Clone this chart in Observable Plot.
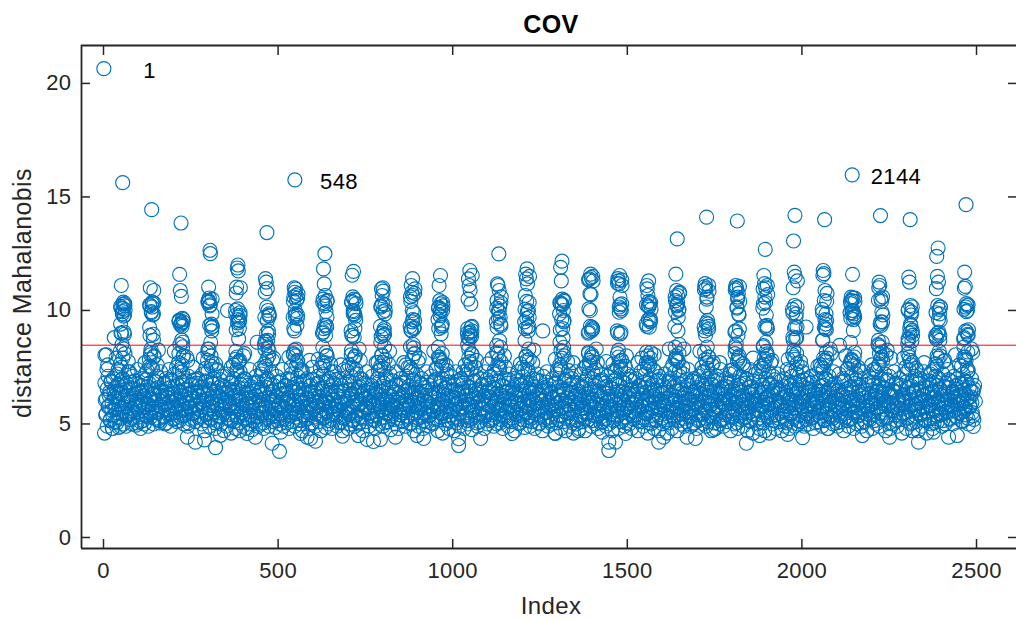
<!DOCTYPE html>
<html><head><meta charset="utf-8">
<script src="https://cdn.jsdelivr.net/npm/d3@7"></script>
<script src="https://cdn.jsdelivr.net/npm/@observablehq/plot@0.6"></script>
<style>html,body{margin:0;padding:0;background:#fff}svg{display:block}</style>
</head><body><div id="chart"></div>
<script>
const titleText = "COV";
const xLabel = "Index";
const yLabel = "distance Mahalanobis";
const xTicks = [0,500,1000,1500,2000,2500];
const yTicks = [0,5,10,15,20];
const cutoff = 8.47;
const labelled = [{i:1,v:20.65,lx:114,ly:20.57,t:"1"},{i:548,v:15.75,lx:620,ly:15.68,t:"548"},{i:2144,v:15.97,lx:2197,ly:15.9,t:"2144"}];

// Columns of high-distance points: index of the column
const columnIndex = [8,55,138,222,305,385,468,550,634,716,800,885,965,1049,1132,1213,1313,1395,1478,1561,1643,1727,1815,1895,1980,2065,2145,2225,2310,2390,2470];
const columnSpread = [0,4,-4,2,-2,6,-6,1,-1,5,-5,3,-3,7,-7,0,2,-2,4,-4];
const col0=[8.05,7.6,8.03,7.4];
const col1=[15.63,9.05,11.1,10.37,8.5,10.2,9.4,10.28,9.85,8.95,10.1,9.75,9.0,10.02,8.2,7.9];
const col2=[14.44,8.95,11,10.37,8.3,10.88,9.25,10.3,9.9,8.7,10.2,9.8,8.15,8.0,7.85];
const col3=[13.85,9.65,11.59,8.7,10.88,9.5,8.1,10.62,9.4,8.4,9.55,9.3,8.5,8.0,7.7];
const col4=[12.65,9.4,11.03,8.6,10.55,9.85,8.3,12.5,10.2,9.1,10.44,8.0,10.37,9.3,7.8];
const col5=[12,9.2,11.03,8.75,11.87,9.78,8.2,11.74,10.07,7.8,10.77,9.48,7.95,11,10,9.6,7.7];
const col6=[13.43,9.1,11.4,8.68,11.25,9.78,8.3,10.96,10.14,8.0,10.8,10.0,8.6,9.75,8.5,7.85];
const col7=[10.95,9.34,11,8.3,10.8,9.78,8.05,10.66,10,7.8,10.59,10.44,9.1,10.73,9.7,8.0];
const col8=[12.5,9.34,11.83,8.9,11.17,9.7,8.38,10.66,10.3,8.0,10.5,9.95,9.2,10.45,9.0,7.7];
const col9=[11.72,9.2,11.55,8.82,10.6,9.56,8.23,10.5,10,8.0,10.4,9.85,8.9,10.3,9.1,7.85];
const col10=[11,9.2,10.95,8.9,10.66,9.85,8.6,10.85,10.3,8.4,10.2,9.1,8.05,10.0,9.3,7.72];
const col11=[11.4,9.2,11.1,8.5,10.8,9.56,8.4,10.66,10,8.1,10.4,9.9,9.1,10.95,9.3,7.9];
const col12=[11.54,9.33,11.1,8.97,10.43,10,8.38,10.29,9.77,8.1,10.14,9.26,7.95,10.2,9.6,7.8];
const col13=[11.76,9.26,11.39,8.9,11.1,9.1,8.5,10.88,8.75,8.1,10.5,10.29,7.9,11.55,9.0,7.75];
const col14=[12.49,9.7,11.17,8.67,11.1,9.33,8.45,10.88,10,8.38,10.43,10.2,8.1,10.6,9.5,7.85];
const col15=[11.83,10,11.6,9.26,11.39,9.7,8.67,11.17,10.4,8.3,10.66,9.1,8.0,11.5,9.5,7.8];
const col16=[12.17,10,11.9,9.2,11.3,9.56,8.6,10.5,10.29,8.38,10.3,8.8,8.23,10.4,9.85,7.9];
const col17=[11.6,9.26,11.39,9.1,10.73,9.2,8.16,11.45,10,7.95,10.07,8.05,7.8,11.3,9.0,7.7];
const col18=[11.54,9.04,11.3,8.97,11.17,10.29,8.1,10.58,9.92,7.8,11.4,10.07,7.95,11.1,9.1,7.75];
const col19=[11.3,9.63,10.95,9.26,10.66,9.56,8.16,10.4,10.2,7.9,11.1,10.3,8.0,10.05,9.4,7.7];
const col20=[13.15,10,11.6,9.1,10.88,8.5,8.38,10.66,10.2,8.1,10.43,9.7,7.9,10.8,9.3,7.8];
const col21=[14.11,9.41,11.18,8.39,10.96,9.19,8.16,10.59,10.15,7.95,11.05,9.56,8.9,10.85,9.26,7.7];
const col22=[13.94,9.85,11.1,8.9,10.96,9.19,8.39,10.59,10.15,8.0,11.0,10.75,8.53,10.4,9.05,7.8];
const col23=[12.69,9.34,11.54,8.6,11.18,9.19,8.39,11,10.59,8.09,10.3,9.8,7.9,10.7,10.1,7.75];
const col24=[14.19,9.85,13.06,8.75,11.69,9.27,8.83,11.5,10.22,8.1,11,9.7,7.95,11.3,10.05,7.85];
const col25=[14,9.85,11.76,9.19,11.62,9.56,8.68,10.88,10.44,8.17,11.55,9.4,7.9,10.75,10.05,7.8];
const col26=[11.59,9.85,10.59,9.12,10.44,9.7,8.6,10.55,10,7.95,10.3,9.6,7.8,10.4,9.9,7.75];
const col27=[14.18,9.93,11.25,9.34,11.1,9.49,8.68,10.52,8.39,8.17,11.0,10.4,8.1,9.8,8.5,7.85];
const col28=[14,9.93,11.47,9.34,11.25,9.12,8.75,10.22,9.0,8.65,10.05,9.8,7.95,8.9,8.55,7.8];
const col29=[12.75,9.85,12.38,9.05,11.5,9.56,8.83,11.25,10.22,8.68,10.96,10.05,8.0,10.15,8.9,7.9];
const col30=[14.66,10,11.69,9.05,11.06,8.9,8.39,10.3,10.15,8.17,10.98,10.22,7.95,9.15,8.75,7.8];
const columnValues = [col0,col1,col2,col3,col4,col5,col6,col7,col8,col9,col10,col11,col12,col13,col14,col15,col16,col17,col18,col19,col20,col21,col22,col23,col24,col25,col26,col27,col28,col29,col30];

// Extra points in the crowded parts of each column, one row per column (columns 1 to 30)
const columnDense = [
10.3,10.18,10.08,9.95,9.8,9.0,
10.33,10.25,10.15,9.95,9.85,8.9,
9.6,9.52,9.45,9.35,8.6,9.58,
10.5,10.35,10.25,9.35,9.25,10.42,
9.9,9.8,9.7,9.45,9.55,9.15,
9.85,9.7,9.55,9.0,8.95,8.65,
10.55,10.4,9.85,9.75,9.65,9.2,
10.4,10.35,10.2,9.35,9.25,9.05,
10.45,10.35,9.95,9.85,9.75,8.9,
10.25,10.15,9.95,9.0,8.95,8.85,
10.75,10.6,9.6,9.5,9.25,9.15,
10.35,10.1,10.05,9.95,9.4,9.2,
9.3,9.2,9.05,9.0,8.85,8.8,
10.35,10.1,9.95,9.65,9.4,9.25,
10.35,10.05,9.95,9.65,9.3,9.2,
10.45,10.35,10.25,9.6,9.5,9.15,
11.5,11.35,10.7,9.3,9.15,9.05,
11.35,11.2,10.25,10.15,10.0,9.0,
10.35,10.25,10.15,9.6,9.5,9.3,
10.75,10.6,10.35,10.25,10.05,9.95,
11.1,10.9,10.5,9.45,9.3,9.1,
11.05,10.9,10.5,10.1,9.8,9.1,
11.1,10.95,10.35,9.3,9.25,8.45,
10.15,9.9,9.3,9.2,8.8,8.7,
10.4,9.9,9.6,9.25,9.15,8.7,
10.55,10.4,10.0,9.9,9.75,9.65,
10.6,10.45,9.5,9.4,8.6,8.45,
10.15,10.0,9.4,9.2,9.05,8.7,
10.15,9.9,9.6,9.0,8.9,8.75,
10.25,10.05,9.95,9.1,8.95,8.8];

// Points joining the columns to the band, one row per column (columns 1 to 30)
const columnStalk = [
7.4,8.1,7.65,7.3,7.9,8.3,7.5,7.75,
7.35,7.95,7.55,8.25,7.7,7.45,8.05,7.6,
7.5,8.0,7.3,7.8,8.2,7.6,7.4,7.95,
7.45,7.7,8.15,7.35,7.9,7.55,8.3,7.65,
7.6,7.3,7.85,8.1,7.5,7.75,7.4,8.0,
7.35,8.2,7.65,7.9,7.45,8.35,7.55,7.8,
7.5,7.75,8.1,7.35,7.95,7.6,8.25,7.4,
7.45,8.0,7.7,7.3,7.85,8.15,7.55,7.65,
7.6,7.4,8.05,7.8,7.35,7.95,7.5,8.3,
7.35,7.85,7.55,8.2,7.7,7.45,8.0,7.65,
7.5,8.1,7.3,7.9,7.6,8.35,7.4,7.75,
7.45,7.7,7.95,7.35,8.2,7.55,7.85,7.6,
7.6,8.05,7.4,7.8,7.3,7.65,8.3,7.5,
7.35,7.75,8.15,7.5,7.9,7.45,7.6,8.0,
7.5,7.85,7.4,8.25,7.65,7.3,7.95,7.7,
7.4,8.0,7.6,7.35,7.85,8.2,7.5,7.75,
7.55,7.3,8.1,7.7,7.45,7.95,7.6,8.3,
7.35,7.8,7.5,8.0,7.65,7.4,8.25,7.55,
7.45,8.15,7.7,7.3,7.9,7.6,7.5,8.05,
7.6,7.35,7.85,8.3,7.4,7.75,8.0,7.5,
7.5,7.95,7.3,7.7,8.2,7.45,7.85,7.6,
7.4,7.75,8.1,7.55,7.35,7.9,8.3,7.65,
7.55,8.0,7.45,7.8,7.3,8.2,7.6,7.7,
7.35,7.65,8.05,7.5,7.85,7.4,8.25,7.75,
7.6,7.9,7.3,8.1,7.55,7.75,7.45,8.3,
7.45,8.15,7.7,7.35,8.0,7.6,7.85,7.5,
7.3,7.8,7.55,8.25,7.4,7.95,7.65,8.05,
7.5,7.7,8.1,7.35,7.9,7.6,8.3,7.45,
7.4,8.0,7.65,7.8,7.3,8.2,7.55,7.75,
7.55,7.35,7.95,8.15,7.6,7.45,7.85,8.3];

// Isolated low and edge points: index, value
const edgeIndex = [3,25,44,106,240,263,289,321,335,411,435,483,504,507,564,583,593,607,684,730,755,773,793,836,898,917,1017,1017,1080,1170,1294,1360,1428,1447,1447,1466,1495,1590,1604,1671,1695,1747,1841,1879,1959,2002,2073,2173,2251,2334,2377,2420,2445,2491,31,355,440,590,786,1258,1440,1530,1620,1765,1860,2012,2108,2200,2255,2350,2440,680,860,1100,1345];
const edgeValues = [4.6,4.8,4.85,4.8,4.42,4.2,4.3,3.96,4.5,4.58,4.42,4.15,3.79,4.64,4.58,4.42,4.36,4.24,4.46,4.49,4.32,4.23,4.32,4.42,4.49,4.36,4.05,4.35,4.36,4.58,4.58,4.71,4.64,3.83,4.2,4.2,4.58,4.2,4.42,4.42,4.36,4.75,4.15,4.49,4.54,4.4,4.8,4.49,4.42,4.2,4.64,4.42,4.49,4.89,8.8,10,8.6,7.8,7.72,9.1,7.75,7.7,8.3,7.7,7.9,9.27,8.46,7.6,7.9,7.7,8.05,7.6,7.7,7.65,7.7];

// Main band, read in index order
const bandValues = [
6.8,5.4,6.1,4.9,7.1,5.8,6.4,5.2,6.9,5.6,4.8,7.0,6.2,5.1,6.6,5.5,7.2,6.0,5.3,6.7,4.9,6.3,5.7,7.0,5.0,
6.5,5.9,4.9,6.8,5.4,7.3,6.1,5.2,6.6,5.7,5.0,7.1,6.3,5.5,6.9,4.95,6.0,7.4,5.3,6.4,5.8,5.1,6.7,7.0,5.6,
6.2,5.0,7.2,5.4,6.5,5.9,4.9,6.8,6.1,5.3,7.5,5.7,6.3,5.0,6.9,5.5,6.0,7.1,5.2,6.6,5.8,5.05,7.3,6.4,5.6,
6.1,5.3,6.8,5.0,7.0,5.9,6.3,5.4,7.4,6.6,4.9,5.7,6.9,5.2,6.2,7.2,5.5,6.0,5.1,6.7,5.8,7.0,5.3,6.4,5.6,
7.3,6.1,5.0,6.5,5.4,6.9,5.9,4.9,7.1,6.3,5.7,5.2,6.7,6.0,7.5,5.5,6.4,5.1,6.8,5.8,7.0,5.3,6.2,5.6,6.6,
5.0,7.2,5.9,6.4,4.7,6.9,5.4,6.1,7.3,5.7,4.9,6.5,5.2,6.8,6.0,7.0,5.5,4.8,6.3,5.8,7.4,5.1,6.6,5.3,6.2,
5.0,6.7,5.6,7.1,4.7,5.9,6.4,4.9,7.2,5.4,6.0,5.2,6.8,4.6,5.7,6.5,7.0,5.1,6.2,4.8,5.8,7.3,5.3,6.6,4.7,
6.1,5.5,6.9,4.9,5.7,7.0,5.2,6.3,4.8,5.9,6.7,5.0,7.4,5.4,6.2,4.75,6.0,5.6,6.8,5.1,7.1,5.3,6.5,4.9,5.8,
6.4,5.0,7.2,5.5,6.1,4.8,6.9,5.7,5.2,6.6,7.0,5.9,4.9,6.3,5.4,7.3,6.0,5.1,6.7,5.6,4.85,6.2,7.1,5.3,5.8,
6.5,5.0,6.9,5.4,7.4,6.1,4.9,5.7,6.7,5.2,6.3,7.0,5.9,4.8,6.0,5.5,7.2,5.1,6.6,5.8,4.9,6.4,5.3,6.8,7.1,
5.6,6.2,5.0,7.3,5.9,4.7,6.5,5.4,6.9,6.1,5.2,7.0,5.7,4.8,6.3,5.5,6.7,5.0,7.5,6.0,5.3,6.4,4.9,5.8,6.8,
7.1,5.1,6.2,5.6,4.7,6.6,5.9,7.2,5.3,6.0,4.85,6.9,5.5,6.3,5.0,7.0,5.7,6.5,4.8,5.2,6.8,6.1,7.3,5.4,5.8,
4.9,6.4,5.6,7.0,5.1,6.7,5.9,4.7,6.2,7.4,5.3,6.0,5.5,6.9,4.8,5.7,6.5,5.0,7.1,6.3,5.2,5.8,6.8,4.9,6.1,
7.2,5.4,6.6,5.0,5.9,7.0,5.3,6.3,4.7,5.6,6.8,6.1,5.1,7.3,5.7,6.4,4.9,6.0,5.5,6.7,7.1,5.2,5.8,6.2,4.8,
6.5,5.4,7.0,5.9,5.0,6.3,7.4,5.6,6.1,4.9,6.8,5.3,5.7,7.1,6.0,5.1,6.6,5.5,7.2,4.75,6.2,5.8,6.9,5.2,6.4,
5.0,7.3,5.7,6.1,4.8,6.7,5.4,7.0,5.9,5.1,6.3,6.8,5.6,4.9,7.1,6.0,5.3,6.5,5.8,7.5,5.0,6.2,5.5,6.9,4.7,
6.4,5.2,7.2,5.9,6.1,4.9,5.7,6.8,5.3,7.0,6.3,4.8,5.5,6.6,5.1,7.3,6.0,5.8,4.9,6.7,5.4,7.1,6.2,5.0,5.6,
6.9,5.2,6.4,7.4,5.7,4.7,6.1,5.9,6.8,5.3,7.0,4.6,6.3,5.5,6.6,5.0,7.2,5.8,6.0,4.8,6.7,5.4,7.1,5.1,6.2,
5.6,4.7,6.5,7.3,5.9,5.2,6.9,6.1,4.9,5.7,7.0,6.4,5.3,6.8,4.8,6.0,5.5,7.2,6.3,5.0,5.8,6.6,5.2,7.4,4.75,
6.1,5.6,6.9,5.4,6.5,7.1,4.9,5.9,6.3,5.1,7.0,5.7,6.7,5.3,6.0,4.8,7.3,5.5,6.4,5.0,6.8,5.8,6.2,7.1,5.2,
5.4,6.6,4.9,7.2,5.9,6.1,5.0,6.9,5.6,7.5,6.3,5.2,5.7,6.7,4.8,6.0,7.0,5.3,6.4,5.5,6.8,4.9,7.2,5.8,6.1,
5.1,6.5,5.6,7.0,4.7,6.2,5.4,6.9,7.3,5.9,5.0,6.3,5.7,6.7,5.2,7.1,6.0,4.85,5.5,6.6,5.8,7.4,5.3,6.4,4.9,
6.8,5.1,6.1,7.0,5.6,4.8,6.5,5.9,7.2,5.4,6.3,5.0,6.9,5.7,6.0,4.7,7.1,5.2,6.6,5.5,6.2,7.3,4.9,5.8,6.7,
5.3,6.4,5.0,7.0,5.6,6.1,4.6,6.8,5.9,7.2,5.2,6.3,5.4,7.4,4.8,5.7,6.5,5.1,6.9,6.0,4.7,5.5,7.1,6.2,5.8,
4.9,6.7,5.3,7.0,6.4,4.6,5.6,6.1,7.3,5.0,6.8,5.9,4.8,6.3,5.4,7.2,6.0,5.1,6.6,5.7,4.7,6.9,5.5,7.1,6.2,
5.2,5.8,6.5,4.9,7.0,6.1,5.4,6.7,5.0,7.4,5.9,6.3,4.8,5.6,6.9,5.3,7.2,6.0,5.1,6.4,5.7,6.8,4.9,5.5,7.1,
6.2,5.0,6.6,5.8,7.3,4.7,6.1,5.4,6.9,5.2,7.0,6.3,5.6,4.8,6.7,5.9,7.5,5.1,6.4,5.5,6.0,4.9,6.8,5.3,7.2,
5.7,6.2,5.0,7.1,6.5,4.8,5.9,6.9,5.2,6.3,7.0,5.4,6.1,4.7,5.6,6.7,5.1,7.3,6.0,5.8,4.9,6.6,5.3,7.2,6.4,
5.5,4.6,6.8,5.9,7.0,5.0,6.2,5.7,7.4,4.8,6.5,5.2,6.1,6.9,5.4,4.7,7.1,6.3,5.6,6.0,5.0,6.7,5.8,7.2,5.1,
6.4,4.6,5.5,6.9,5.3,7.0,6.1,4.8,5.9,6.6,5.2,7.3,6.2,5.7,4.7,6.8,5.4,7.1,6.0,5.0,6.5,5.6,7.2,4.9,6.3,
5.8,5.1,6.7,7.4,5.3,6.1,4.9,5.5,6.9,6.4,5.0,7.0,5.7,6.2,4.8,6.6,5.9,7.1,5.2,6.3,5.4,6.8,7.3,5.0,6.0,
5.6,4.9,6.5,7.0,5.1,6.2,5.8,7.2,4.7,6.7,5.3,6.0,5.5,6.9,4.8,7.1,6.4,5.7,5.0,6.1,7.4,5.2,6.6,5.9,4.9,
6.3,5.4,7.0,6.8,5.1,5.6,6.1,7.2,4.7,6.5,5.3,5.9,6.9,5.0,7.3,6.2,5.5,4.8,6.7,5.8,7.1,5.2,6.4,6.0,4.9,
5.7,6.8,5.3,7.0,6.1,4.7,5.5,6.6,7.4,5.1,6.3,5.9,4.6,6.9,5.4,7.2,6.0,5.0,6.5,5.6,4.8,7.1,6.2,5.8,6.7,
5.2,6.4,4.7,7.0,5.5,6.1,5.9,7.3,4.6,6.8,5.3,6.3,5.0,7.1,5.7,6.6,4.8,6.0,5.4,7.2,6.5,5.1,5.8,6.9,4.7,
6.2,5.6,7.0,4.9,6.4,5.2,7.4,5.9,6.1,4.8,6.7,5.5,7.1,5.3,6.3,4.9,6.8,5.7,6.0,7.2,5.0,6.5,5.4,6.9,5.1,
5.8,7.3,6.2,4.9,5.6,6.6,5.2,7.0,6.4,5.0,5.9,6.8,7.1,5.3,6.1,4.8,5.7,6.5,5.4,7.2,6.0,5.1,6.9,5.5,6.3,
7.5,4.9,5.8,6.7,5.2,6.2,7.0,5.6,6.4,4.8,7.1,5.9,5.3,6.6,6.0,5.0,7.3,5.4,6.8,5.7,6.1,4.9,6.5,7.2,5.5,
5.1,6.3,5.8,7.0,4.7,6.9,5.3,6.2,7.4,5.6,4.9,6.6,6.0,5.2,7.1,5.9,6.4,4.8,5.5,6.8,7.2,5.0,6.1,5.7,6.7,
5.4,7.0,4.9,6.3,5.8,7.3,5.1,6.5,6.0,4.7,6.9,5.6,7.1,5.2,6.2,5.9,4.8,6.7,5.4,7.4,6.1,5.0,6.4,5.7,6.8,
4.9,5.5,7.0,6.3,5.2,6.6,5.9,7.2,4.7,6.0,5.3,6.9,5.8,7.1,4.8,6.2,5.6,6.5,5.0,7.3,6.4,5.4,6.8,4.9,5.7,
6.1,7.0,5.2,6.7,4.6,5.9,6.3,7.2,5.5,6.0,4.8,6.6,5.3,7.4,6.2,5.0,5.8,6.9,4.7,6.4,5.6,7.1,5.1,6.5,5.9,
4.7,6.8,5.4,7.0,6.1,4.9,5.7,6.3,7.3,5.2,6.6,4.6,6.0,5.5,6.9,5.8,7.2,5.0,6.4,4.8,6.2,5.3,7.1,5.6,6.7,
5.1,6.0,7.0,5.4,6.5,5.9,4.9,7.2,6.3,5.7,5.0,6.8,6.1,7.4,5.5,6.6,5.2,6.9,5.8,6.4,5.0,7.1,6.2,5.6,6.7,
5.3,7.0,6.0,5.5,6.8,6.3,5.9,5.1,7.2,6.5,5.7,6.9,5.4,6.1,7.3,5.0,6.6,5.8,6.2,7.0,5.5,6.4,5.2,6.7,6.0
];

// Dense core of the band, second reading in index order
const coreValues = [
6.05,5.45,6.55,5.75,6.25,5.15,6.85,5.95,5.35,6.45,5.65,6.15,5.05,6.75,5.85,6.35,5.25,6.95,5.55,6.05,5.75,6.65,5.35,6.25,5.95,
5.45,6.85,6.15,5.65,5.25,6.55,5.85,6.35,5.05,6.75,5.55,6.05,5.95,6.45,5.15,6.25,5.75,6.95,5.35,6.65,5.85,5.45,6.15,5.65,6.55,
6.35,5.25,5.95,6.85,5.55,6.05,5.15,6.45,5.75,6.25,5.35,6.75,5.85,5.05,6.55,6.15,5.65,6.95,5.45,6.35,5.95,5.25,6.65,5.75,6.05,
5.55,6.45,5.15,6.25,5.85,6.85,5.35,6.05,5.65,6.55,5.95,5.05,6.35,5.75,6.75,5.45,6.15,5.25,6.95,5.85,6.45,5.55,6.25,5.95,5.35,
6.65,5.75,6.05,5.15,6.85,5.45,6.35,5.65,6.55,5.25,6.15,5.95,6.75,5.55,5.05,6.45,5.85,6.25,5.35,6.95,5.75,6.05,5.45,6.65,5.65,
5.95,6.35,5.25,6.55,5.85,5.15,6.85,6.15,5.55,6.45,5.75,5.35,6.25,6.05,5.05,6.75,5.65,5.95,6.55,5.45,6.95,5.85,5.25,6.35,6.15,
5.55,6.65,5.75,5.15,6.45,5.95,6.25,5.35,6.85,5.65,6.05,5.45,6.55,5.85,5.05,6.35,5.75,6.95,5.25,6.15,5.55,6.75,5.95,6.45,5.35,
6.05,5.65,6.25,5.15,6.85,5.85,5.45,6.55,5.75,6.35,5.25,6.65,5.95,5.05,6.15,5.55,6.95,5.35,6.45,5.85,6.05,5.65,6.75,5.45,6.25,
5.75,6.55,5.15,6.05,5.95,6.85,5.35,6.35,5.55,6.15,5.25,6.65,5.85,6.45,5.05,6.95,5.65,6.25,5.45,5.95,6.75,5.75,6.05,5.35,6.55,
6.45,5.25,5.85,6.15,5.55,6.85,5.95,5.15,6.35,5.75,6.65,5.45,6.05,5.65,6.95,5.35,6.25,5.85,5.05,6.55,5.95,6.45,5.25,6.75,5.55,
5.65,6.15,5.45,6.85,5.75,6.35,5.15,5.95,6.55,5.35,6.25,5.85,6.05,5.05,6.65,5.55,6.95,5.25,6.45,5.75,6.15,5.65,6.75,5.45,5.95,
6.25,5.35,6.55,5.85,5.15,6.35,6.05,5.55,6.85,5.75,5.25,6.45,5.95,6.65,5.05,6.15,5.45,6.95,5.65,6.25,5.85,5.35,6.55,6.05,5.75,
5.45,6.75,5.95,5.25,6.35,5.55,6.15,5.15,6.85,5.65,6.45,5.85,6.05,5.35,6.65,5.75,5.05,6.25,5.95,6.95,5.45,6.55,5.55,6.15,5.25,
6.35,5.85,5.65,6.75,5.15,6.05,5.45,6.45,5.95,6.85,5.35,6.25,5.75,5.05,6.55,5.55,6.15,6.95,5.25,5.85,6.35,5.65,6.65,5.45,6.05,
5.95,6.55,5.35,5.75,6.25,5.15,6.85,5.55,6.45,6.05,5.25,6.75,5.85,6.15,5.05,5.65,6.35,5.45,6.95,5.95,6.55,5.75,5.35,6.25,6.05,
5.15,6.65,5.85,6.45,5.55,5.25,6.85,6.15,5.75,6.35,5.05,5.95,6.55,5.45,6.05,6.75,5.65,5.35,6.25,5.85,6.95,5.55,6.45,5.15,6.15,
6.05,5.75,5.25,6.55,5.95,6.35,5.45,6.85,5.65,5.05,6.25,5.85,6.65,5.35,6.15,5.55,6.45,5.15,6.95,5.75,6.05,5.25,6.55,5.95,6.35,
5.45,6.15,5.85,5.05,6.75,5.65,6.25,5.35,6.45,5.95,6.85,5.55,5.15,6.05,5.75,6.55,5.25,6.35,5.85,6.65,5.45,6.95,6.15,5.65,5.05,
6.25,5.35,6.45,5.75,6.05,5.55,6.85,5.25,5.95,6.55,5.15,6.35,5.85,6.15,5.45,6.75,5.65,5.05,6.25,5.95,6.65,5.35,6.05,5.75,6.45,
5.55,6.95,5.25,6.15,5.85,5.45,6.55,5.65,6.35,5.05,6.85,5.95,6.25,5.15,5.75,6.45,6.05,5.35,6.65,5.55,5.85,6.15,5.25,6.75,5.45,
6.35,5.95,5.65,6.55,5.15,6.05,5.75,6.85,5.35,6.25,5.45,6.45,5.85,5.05,6.95,5.55,6.15,5.25,6.65,5.95,6.35,5.65,5.75,6.05,5.45,
6.55,5.15,6.25,5.85,6.75,5.35,5.55,6.45,5.95,6.05,5.25,6.85,5.65,6.35,5.05,5.75,6.15,5.45,6.95,5.85,6.55,5.35,6.25,5.55,6.05,
5.95,6.45,5.15,5.65,6.65,5.75,6.35,5.25,6.85,6.05,5.45,6.15,5.85,5.05,6.55,5.55,6.75,5.35,6.25,5.95,5.15,6.45,5.65,6.95,5.75,
6.05,5.25,6.35,5.85,5.45,6.55,5.95,6.15,5.05,6.85,5.55,6.25,5.75,5.35,6.65,6.05,5.65,6.45,5.15,5.95,6.75,5.45,6.35,5.85,5.25,
6.15,5.55,6.95,5.75,6.05,5.35,6.55,5.65,6.25,5.05,5.95,6.45,5.85,6.85,5.15,5.45,6.35,6.05,5.75,6.65,5.25,6.15,5.55,6.55,5.95,
5.35,6.25,5.85,6.75,5.65,5.05,6.45,5.45,6.05,6.95,5.75,5.15,6.35,5.95,6.55,5.25,6.15,5.85,6.65,5.55,6.05,5.35,6.85,5.75,6.25,
5.45,6.45,5.65,5.95,5.05,6.55,6.15,5.35,6.75,5.85,6.25,5.25,6.05,5.55,6.95,5.75,6.35,5.15,6.65,5.95,5.45,6.15,5.85,6.45,5.65,
6.05,5.25,6.85,5.55,6.35,5.75,5.05,6.55,5.95,6.15,5.35,6.25,5.85,6.75,5.45,5.65,6.45,5.15,6.95,6.05,5.75,6.35,5.25,5.95,6.55,
5.85,5.35,6.15,5.55,6.65,5.05,6.25,5.75,6.85,5.95,5.45,6.05,6.45,5.25,5.65,6.55,6.35,5.15,5.85,6.75,6.15,5.55,5.95,6.95,5.35,
6.25,5.75,5.45,6.05,6.55,5.65,5.25,6.85,5.85,6.35,5.05,6.15,5.95,6.45,5.55,5.35,6.65,5.75,6.25,5.15,6.05,6.95,5.45,5.85,6.55,
5.65,6.35,5.95,5.25,6.75,6.15,5.55,5.05,6.45,5.75,6.05,5.35,6.85,5.85,6.25,5.45,5.95,6.55,5.15,6.35,5.65,6.15,6.65,5.25,5.75,
6.05,5.55,6.95,5.85,5.35,6.45,5.95,6.25,5.05,6.55,5.65,6.15,5.45,6.75,5.75,5.25,6.35,6.05,5.85,6.85,5.55,5.15,6.25,5.95,6.45,
5.35,6.65,5.75,6.15,5.45,6.05,5.65,6.55,5.25,6.95,5.85,6.35,5.05,5.95,6.25,5.55,6.45,5.75,6.75,5.15,6.05,5.85,5.35,6.55,5.65,
6.25,5.45,6.15,5.95,6.85,5.25,5.75,6.35,5.55,6.05,6.65,5.05,6.45,5.85,5.35,6.95,5.65,6.15,5.95,5.45,6.55,5.75,6.25,5.15,6.05,
5.55,6.35,5.85,5.25,6.75,5.95,6.45,5.65,5.05,6.15,6.85,5.35,6.05,5.75,6.55,5.45,6.25,5.15,5.85,6.65,5.95,5.55,6.35,6.95,5.25,
6.05,5.65,6.45,5.75,6.15,5.35,6.55,5.85,6.25,5.45,5.95,6.75,5.15,6.05,5.55,6.35,5.65,6.85,5.25,6.15,5.75,6.45,5.95,5.35,6.55
];

const highPoints = columnIndex.flatMap((c,k)=>columnValues[k].map((v,j)=>({x:c+columnSpread[j],y:v})));
const densePoints = columnDense.map((v,k)=>({x:columnIndex[1+Math.floor(k/6)]+columnSpread[k%6+5],y:v}));
const stalkPoints = columnStalk.map((v,k)=>({x:columnIndex[1+Math.floor(k/8)]+columnSpread[k%8+2]*3.2,y:v}));
const edgePoints = edgeIndex.map((x,k)=>({x,y:edgeValues[k]}));
const bandPoints = bandValues.map((y,k)=>({x:4+k*2495/bandValues.length,y}));
const corePoints = coreValues.map((y,k)=>({x:5+k*2490/coreValues.length,y}));
const allPoints = [...labelled.map(d=>({x:d.i,y:d.v})),...highPoints,...densePoints,...stalkPoints,...edgePoints,...bandPoints,...corePoints];

const ink="#262626", blue="#0072BD";
const font='"Liberation Sans",Arial,sans-serif';
const xDom=[-63,2614.5], yDom=[-0.485,21.67];
const plot = Plot.plot({
  width:1016,height:620,marginLeft:81,marginTop:45,marginBottom:72,marginRight:0,
  style:{fontFamily:font,fontSize:"22px",letterSpacing:"0.4px",background:"#fff",color:ink,overflow:"visible"},
  x:{domain:xDom},y:{domain:yDom},
  marks:[
    Plot.dot(allPoints,{x:"x",y:"y",r:7,stroke:blue,strokeWidth:1.15,fill:"none"}),
    Plot.ruleY([cutoff],{stroke:"#ff0000",strokeWidth:1}),
    Plot.text(labelled,{x:"lx",y:"ly",text:"t",textAnchor:"start",fill:"#000",fontSize:22}),
    Plot.axisX({ticks:xTicks,tickFormat:"d",anchor:"bottom",tickSize:-9,tickPadding:23,stroke:ink,strokeWidth:1.5,fontSize:22,label:null,color:ink}),
    Plot.axisX({ticks:xTicks,anchor:"top",tickSize:-9,tickFormat:()=>"",stroke:ink,strokeWidth:1.5,label:null}),
    Plot.axisY({ticks:yTicks,anchor:"left",tickSize:-9,tickPadding:19,stroke:ink,strokeWidth:1.5,fontSize:22,label:null,color:ink}),
    Plot.axisY({ticks:yTicks,anchor:"right",tickSize:-9,tickFormat:()=>"",stroke:ink,strokeWidth:1.5,label:null}),
    Plot.ruleX([xDom[0]],{stroke:ink,strokeWidth:1.8}),
    Plot.ruleY([yDom[0],yDom[1]],{stroke:ink,strokeWidth:1.8}),
    Plot.text([titleText],{frameAnchor:"top",dx:2,dy:-21,fontWeight:"bold",fontSize:25,fill:"#000",lineAnchor:"middle"}),
    Plot.text([xLabel],{frameAnchor:"bottom",dx:2,dy:58,fontSize:24,letterSpacing:"0.8px",fill:ink,lineAnchor:"middle"}),
    Plot.text([yLabel],{frameAnchor:"left",textAnchor:"middle",dx:-59,dy:-4,rotate:-90,fontSize:25,fill:ink,lineAnchor:"middle"})
  ]
});
document.getElementById("chart").appendChild(plot);
</script></body></html>
